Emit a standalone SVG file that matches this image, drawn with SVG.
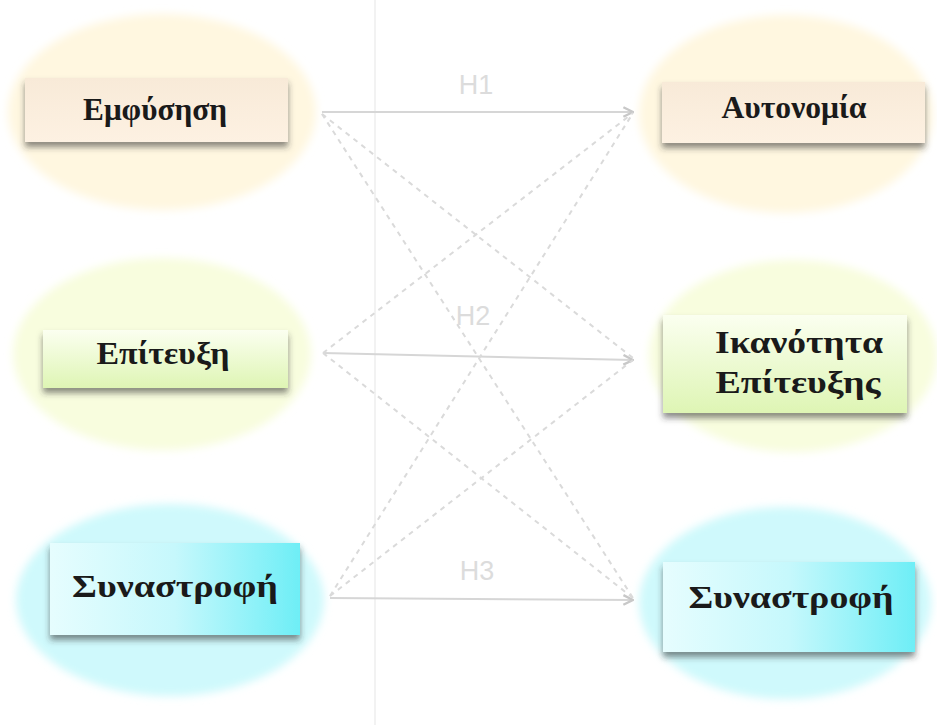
<svg xmlns="http://www.w3.org/2000/svg" width="937" height="725" viewBox="0 0 937 725">
<style>
.lbl{font-family:"Liberation Serif","Times New Roman",serif;font-weight:bold;font-size:31px;fill:#1a1a1a;text-anchor:middle}
.h{font-family:"Liberation Sans",Arial,sans-serif;font-size:27px;fill:#dcdcdc;text-anchor:middle}
.solid{stroke:#d6d6d6;stroke-width:2;fill:none}
.dash{stroke:#dadada;stroke-width:2;fill:none;stroke-dasharray:5 5}
</style>
<defs>
<linearGradient id="rCream" x1="0" y1="0" x2="0" y2="1"><stop offset="0" stop-color="#f8ead8"/><stop offset="1" stop-color="#fdf1e2"/></linearGradient>
<linearGradient id="rGreen" x1="0" y1="0" x2="0" y2="1"><stop offset="0" stop-color="#fbfff0"/><stop offset="1" stop-color="#def5b4"/></linearGradient>
<linearGradient id="rCyan" x1="0" y1="0" x2="1" y2="0"><stop offset="0" stop-color="#e6fdfe"/><stop offset="0.5" stop-color="#c6f8fc"/><stop offset="1" stop-color="#6eeef6"/></linearGradient>
<filter id="sh" x="-10%" y="-20%" width="120%" height="150%"><feDropShadow dx="0" dy="5" stdDeviation="3" flood-color="#333" flood-opacity="0.55"/></filter>
<filter id="soft" x="-10%" y="-10%" width="120%" height="120%"><feGaussianBlur stdDeviation="4"/></filter>
<marker id="arrL" viewBox="0 0 10 10" refX="9" refY="5" markerWidth="12" markerHeight="12" orient="auto" markerUnits="userSpaceOnUse"><path d="M1,1 L9,5 L1,9" fill="none" stroke="#c8c8c8" stroke-width="2"/></marker>
</defs>
<rect width="937" height="725" fill="#fff"/>
<line x1="375" y1="0" x2="375" y2="725" stroke="#f2f2f2" stroke-width="2"/>

<g id="n-emfysisi">
<ellipse cx="162" cy="112" rx="154" ry="98" fill="#fff7e0" filter="url(#soft)"/>
<rect x="25" y="78" width="263" height="64" fill="url(#rCream)" filter="url(#sh)"/>
<text class="lbl" x="155" y="120" textLength="144" lengthAdjust="spacingAndGlyphs">Εμφύσηση</text>
</g>
<g id="n-epiteuxi">
<ellipse cx="162" cy="354" rx="149" ry="96" fill="#f8fdde" filter="url(#soft)"/>
<rect x="43" y="330" width="245" height="58" fill="url(#rGreen)" filter="url(#sh)"/>
<text class="lbl" x="163" y="364" textLength="133" lengthAdjust="spacingAndGlyphs">Επίτευξη</text>
</g>
<g id="n-synanastrofi-l">
<ellipse cx="170" cy="600" rx="154" ry="96" fill="#cff9fc" filter="url(#soft)"/>
<rect x="50" y="543" width="250" height="92" fill="url(#rCyan)" filter="url(#sh)"/>
<text class="lbl" x="175" y="597" textLength="206" lengthAdjust="spacingAndGlyphs">Συναστροφή</text>
</g>
<g id="n-autonomia">
<ellipse cx="786" cy="114" rx="147" ry="99" fill="#fff7e0" filter="url(#soft)"/>
<rect x="662" y="82" width="263" height="61" fill="url(#rCream)" filter="url(#sh)"/>
<text class="lbl" x="794" y="118" textLength="145" lengthAdjust="spacingAndGlyphs">Αυτονομία</text>
</g>
<g id="n-ikanotita">
<ellipse cx="793" cy="356" rx="144" ry="96" fill="#f8fdde" filter="url(#soft)"/>
<rect x="663" y="315" width="244" height="98" fill="url(#rGreen)" filter="url(#sh)"/>
<text class="lbl" x="799" y="353" textLength="168" lengthAdjust="spacingAndGlyphs">Ικανότητα</text>
<text class="lbl" x="798" y="393" textLength="165" lengthAdjust="spacingAndGlyphs">Επίτευξης</text>
</g>
<g id="n-synanastrofi-r">
<ellipse cx="785" cy="603" rx="146" ry="96" fill="#cff9fc" filter="url(#soft)"/>
<rect x="663" y="562" width="252" height="90" fill="url(#rCyan)" filter="url(#sh)"/>
<text class="lbl" x="791" y="608" textLength="205" lengthAdjust="spacingAndGlyphs">Συναστροφή</text>
</g>

<g id="connectors">
<line class="solid" x1="322" y1="112" x2="633" y2="112" marker-end="url(#arrL)"/>
<line class="solid" x1="323" y1="353" x2="633" y2="360" marker-end="url(#arrL)"/>
<line class="solid" x1="330" y1="598" x2="633" y2="600" marker-end="url(#arrL)"/>
<line class="dash" x1="322" y1="114" x2="633" y2="358"/>
<line class="dash" x1="322" y1="114" x2="633" y2="598"/>
<line class="dash" x1="323" y1="353" x2="633" y2="113"/>
<line class="dash" x1="323" y1="353" x2="633" y2="598"/>
<line class="dash" x1="330" y1="596" x2="633" y2="113"/>
<line class="dash" x1="330" y1="596" x2="633" y2="360"/>
<text class="h" x="476" y="94">H1</text>
<text class="h" x="473" y="325">H2</text>
<text class="h" x="477" y="580">H3</text>
</g>
</svg>
